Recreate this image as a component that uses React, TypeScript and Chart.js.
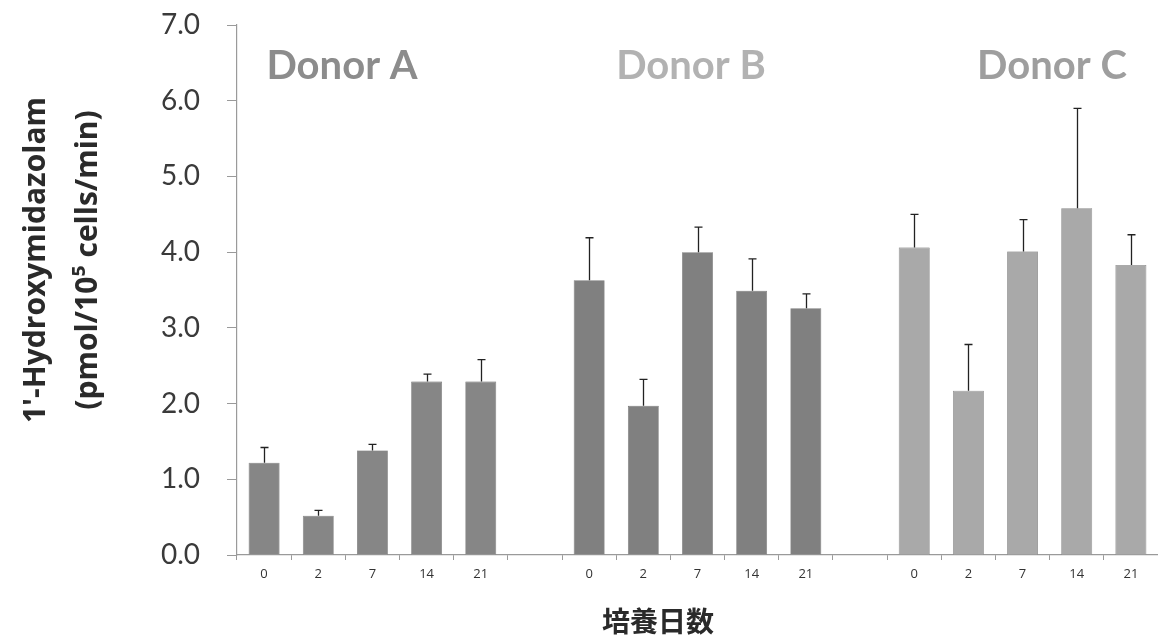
import React, { useEffect, useRef } from "react";
import { Chart, registerables } from "chart.js";

Chart.register(...registerables);

const days = ["0", "2", "7", "14", "21"];
const donorNames = ["Donor A", "Donor B", "Donor C"];
const donorAMean = [1.22, 0.52, 1.38, 2.29, 2.29];
const donorAErr = [0.2, 0.07, 0.08, 0.1, 0.29];
const donorBMean = [3.63, 1.97, 4.0, 3.49, 3.26];
const donorBErr = [0.56, 0.35, 0.33, 0.42, 0.19];
const donorCMean = [4.06, 2.17, 4.01, 4.58, 3.83];
const donorCErr = [0.44, 0.61, 0.42, 1.32, 0.4];
const yTicks = [0, 1, 2, 3, 4, 5, 6, 7];

const barColors = ["#868686", "#808080", "#a9a9a9"];
const donorLabelColors = ["#8c8c8c", "#b2b2b2", "#9e9e9e"];
const donorLabelX = [342, 691, 1052];
const yTitleLines = ["1'-Hydroxymidazolam", "(pmol/10⁵ cells/min)"];
const xTitle = "培養日数";

export default function App() {
  const ref = useRef<HTMLCanvasElement>(null);

  useEffect(() => {
    const groups = [
      { m: donorAMean, e: donorAErr },
      { m: donorBMean, e: donorBErr },
      { m: donorCMean, e: donorCErr },
    ];
    const labels: string[] = [];
    const values: (number | null)[] = [];
    const errs: (number | null)[] = [];
    const colors: string[] = [];
    groups.forEach((g, gi) => {
      if (gi > 0) {
        labels.push("");
        values.push(null);
        errs.push(null);
        colors.push("rgba(0,0,0,0)");
      }
      days.forEach((d, i) => {
        labels.push(d);
        values.push(g.m[i]);
        errs.push(g.e[i]);
        colors.push(barColors[gi]);
      });
    });

    const errorPlugin = {
      id: "errbars",
      afterDatasetsDraw(chart: any) {
        const ctx = chart.ctx;
        const meta = chart.getDatasetMeta(0);
        const y = chart.scales.y;
        ctx.save();
        ctx.strokeStyle = "#222";
        ctx.lineWidth = 1.3;
        meta.data.forEach((el: any, i: number) => {
          const v = values[i];
          const e = errs[i];
          if (v == null || e == null) return;
          const x = Math.round(el.x) + 0.5;
          const top = y.getPixelForValue(v + e);
          const base = y.getPixelForValue(v);
          ctx.beginPath();
          ctx.moveTo(x, base);
          ctx.lineTo(x, top);
          ctx.moveTo(x - 4, top);
          ctx.lineTo(x + 4, top);
          ctx.stroke();
        });
        ctx.restore();
      },
    };

    const textPlugin = {
      id: "texts",
      afterDraw(chart: any) {
        const ctx = chart.ctx;
        ctx.save();
        ctx.textAlign = "center";
        ctx.textBaseline = "middle";
        ctx.font = "bold 40px Lato, 'Open Sans', sans-serif";
        donorNames.forEach((n, i) => {
          ctx.fillStyle = donorLabelColors[i];
          ctx.fillText(n, donorLabelX[i], 66);
        });
        ctx.fillStyle = "#2a2a2a";
        ctx.font = "bold 30px 'Open Sans', Lato, sans-serif";
        const cx = [36, 88];
        yTitleLines.forEach((t, i) => {
          ctx.save();
          ctx.translate(cx[i], 260);
          ctx.rotate(-Math.PI / 2);
          ctx.fillText(t, 0, 0);
          ctx.restore();
        });
        ctx.font = "bold 28px 'Noto Sans CJK JP', sans-serif";
        ctx.fillText(xTitle, 658, 621);
        ctx.restore();
      },
    };

    const chart = new Chart(ref.current!, {
      type: "bar",
      data: {
        labels,
        datasets: [
          {
            data: values,
            backgroundColor: colors,
            borderColor: colors.map((c, i) => (values[i] == null ? "rgba(0,0,0,0)" : "#5a5a5a")),
            borderWidth: 0.6,
            barPercentage: 0.57,
            categoryPercentage: 1,
          },
        ],
      },
      options: {
        animation: false,
        responsive: false,
        maintainAspectRatio: false,
        layout: { padding: { top: 25, right: 0, bottom: 0, left: 0 } },
        plugins: { legend: { display: false }, tooltip: { enabled: false } },
        scales: {
          x: {
            offset: true,
            grid: {
              display: true,
              drawOnChartArea: false,
              drawTicks: true,
              tickLength: 5,
              offset: true,
              color: "#9a9a9a",
            },
            border: { display: true, color: "#9a9a9a", width: 1.2 },
            ticks: {
              color: "#333",
              font: { family: "'Open Sans', Lato, sans-serif", size: 13 },
              padding: 6,
              maxRotation: 0,
              autoSkip: false,
            },
            afterFit(scale: any) {
              scale.height = 87;
              scale.paddingLeft = 0;
              scale.paddingRight = 0;
            },
          },
          y: {
            min: 0,
            max: 7,
            afterBuildTicks(scale: any) {
              scale.ticks = yTicks.map((v) => ({ value: v }));
            },
            grid: {
              display: true,
              drawOnChartArea: false,
              drawTicks: true,
              tickLength: 10,
              color: "#9a9a9a",
            },
            border: { display: true, color: "#9a9a9a", width: 1.2 },
            ticks: {
              color: "#3a3a3a",
              font: { family: "Lato, 'Open Sans', sans-serif", size: 28 },
              padding: 27,
              callback: (v: any) => Number(v).toFixed(1),
            },
            afterFit(scale: any) {
              scale.width = 237;
              scale.paddingTop = 0;
              scale.paddingBottom = 0;
            },
          },
        },
      },
      plugins: [errorPlugin, textPlugin],
    });
    return () => chart.destroy();
  }, []);

  return (
    <div style={{ position: "fixed", left: 0, top: 0, width: 1158, height: 642, background: "#fff" }}>
      <canvas ref={ref} width={1158} height={642} style={{ display: "block" }} />
    </div>
  );
}
